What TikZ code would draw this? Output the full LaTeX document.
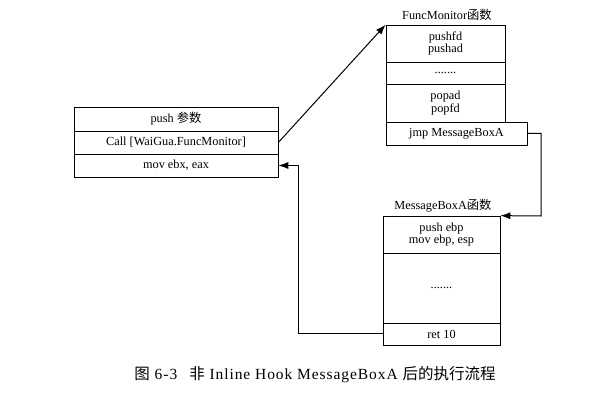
\documentclass[tikz,border=0pt]{standalone}
\usepackage{fontspec}
\setmainfont{Liberation Serif}
\newfontfamily\cjk{Noto Sans CJK SC}
\newfontfamily\capfont{Liberation Serif}[LetterSpace=6]
\usetikzlibrary{arrows.meta}
\begin{document}
\begin{tikzpicture}[x=1pt,y=-1pt,
  cell/.style={draw, line width=0.7pt, inner sep=0pt, align=center, font=\fontsize{12.3}{13.5}\selectfont},
  lbl/.style={inner sep=0pt, font=\fontsize{12.3}{13.5}\selectfont},
  flow/.style={line width=1pt, -{Latex[length=10pt,width=7pt]}}]
\useasboundingbox (0,0) rectangle (606,414);
% left box
\node[cell, minimum width=204pt, minimum height=24pt] (p1) at (176,119) {push {\cjk 参数}};
\node[cell, minimum width=204pt, minimum height=23pt] (p2) at (176,142.5) {Call [WaiGua.FuncMonitor]};
\node[cell, minimum width=204pt, minimum height=23pt] (p3) at (176,165.5) {mov ebx, eax};
% FuncMonitor
\node[lbl] (ft) at (447,15) {FuncMonitor{\cjk 函数}};
\node[cell, minimum width=119pt, minimum height=37pt] (f1) at (445.5,43.5) {pushfd\\[-1pt]pushad};
\node[cell, minimum width=119pt, minimum height=22pt] (f2) at (445.5,73) {.......};
\node[cell, minimum width=119pt, minimum height=38pt] (f3) at (445.5,103) {popad\\[-1pt]popfd};
\node[cell, minimum width=141pt, minimum height=23pt] (f4) at (456.5,133.5) {jmp MessageBoxA};
% MessageBoxA
\node[lbl] (mt) at (443,206) {MessageBoxA{\cjk 函数}};
\node[cell, minimum width=117pt, minimum height=37pt] (m1) at (441.5,234.5) {push ebp\\[-1pt]mov ebp, esp};
\node[cell, minimum width=117pt, minimum height=70pt] (m2) at (441.5,288) {.......};
\node[cell, minimum width=117pt, minimum height=22pt] (m3) at (441.5,334) {ret 10};
% connectors
\coordinate (c1) at (541,216);
\coordinate (c2) at (298,334);
\draw[flow] (p2.east) -- (f1.north west);
\draw[flow] (f4.east) -| (c1) -- (m1.north east);
\draw[flow] (m3.west) -- (c2) |- (p3.east);
% caption
\node[inner sep=0pt, font=\fontsize{15.5}{17}\selectfont] (cap) at (315,375) {{\cjk 图}\capfont\ 6-3\hspace{12pt}{\cjk 非} Inline Hook MessageBoxA {\cjk 后的执行流程}};
\end{tikzpicture}
\end{document}
